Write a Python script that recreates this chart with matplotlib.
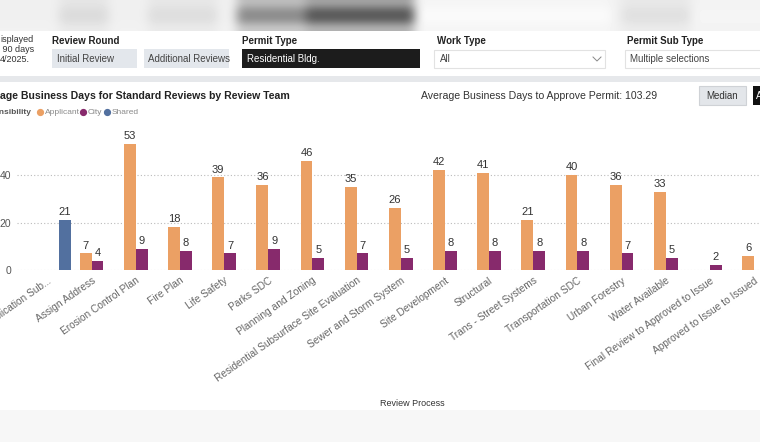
import numpy as np
import matplotlib.pyplot as plt
import matplotlib.transforms as mtransforms
from matplotlib.patches import Rectangle
from matplotlib.lines import Line2D

plt.rcParams['font.family'] = ['Liberation Sans', 'DejaVu Sans']

# Data (None = no bar)
processes = ["Application Sub...", "Assign Address", "Erosion Control Plan", "Fire Plan",
             "Life Safety", "Parks SDC", "Planning and Zoning",
             "Residential Subsurface Site Evaluation", "Sewer and Storm System",
             "Site Development", "Structural", "Trans - Street Systems",
             "Transportation SDC", "Urban Forestry", "Water Available",
             "Final Review to Approved to Issue", "Approved to Issue to Issued"]
applicant = [None, 7, 53, 18, 39, 36, 46, 35, 26, 42, 41, 21, 40, 36, 33, None, 6]
city = [None, 4, 9, 8, 7, 9, 5, 7, 5, 8, 8, 8, 8, 7, 5, 2, None]
shared = [21, None, None, None, None, None, None, None, None, None, None, None,
          None, None, None, None, None]
y_ticks = [0, 20, 40]
avg_days = 103.29

series = [("Applicant", applicant, '#EBA064'),
          ("City", city, '#872A6C'),
          ("Shared", shared, '#52709F')]

W, H = 760, 442
fig = plt.figure(figsize=(W / 100, H / 100), dpi=100)


def fx(px):
    return px / W


def fy(py):
    return 1 - py / H


def box(x0, y0, x1, y1, fc, ec='none', lw=0.8):
    fig.add_artist(Rectangle((fx(x0), fy(y1)), fx(x1) - fx(x0), fy(y0) - fy(y1),
                             transform=fig.transFigure, facecolor=fc, edgecolor=ec, lw=lw))


def txt(x, y, s, **kw):
    kw.setdefault('va', 'center')
    fig.text(fx(x), fy(y), s, **kw)


# blurred header strip at the very top
bg = fig.add_axes([0, fy(31), 1, 31 / H])
strip = np.full((4, 77), 0.94)
strip[:, 6:11] = 0.86
strip[:, 15:22] = 0.87
strip[:, 24:31] = 0.55
strip[:, 31:42] = 0.35
strip[:, 42:62] = 0.98
strip[:, 63:70] = 0.88
strip[:, 70:] = 0.96
strip[0] = strip[0] * 0.5 + 0.47
strip[3] = strip[3] * 0.4 + 0.57
bg.imshow(strip, cmap='gray', vmin=0, vmax=1, aspect='auto', interpolation='bicubic')
bg.axis('off')

# separator and bottom band
box(0, 76, W, 82, '#e6e8eb')
box(0, 410, W, H, '#f7f7f7')

# filter row
for i, line in enumerate(["isplayed", " 90 days", "4/2025."]):
    txt(0, 40 + i * 9.5, line, fontsize=6.5, color='#333333')
txt(52, 41, "Review Round", fontsize=7, fontweight='bold', color='#222222')
box(52, 49, 137, 68, '#e3e7ec')
txt(57, 58.5, "Initial Review", fontsize=7, color='#444444')
box(144, 49, 229, 68, '#e3e7ec')
txt(148, 58.5, "Additional Reviews", fontsize=7, color='#444444')
txt(242, 41, "Permit Type", fontsize=7, fontweight='bold', color='#222222')
box(242, 49, 420, 68, '#1c1c1c')
txt(247, 58.5, "Residential Bldg.", fontsize=7, color='white')
txt(437, 41, "Work Type", fontsize=7, fontweight='bold', color='#222222')
box(434, 50, 605, 68, 'white', '#e2e2e2')
txt(440, 59, "All", fontsize=7, color='#444444')
fig.add_artist(Line2D([fx(593), fx(597), fx(601)], [fy(57), fy(61), fy(57)],
                      transform=fig.transFigure, color='#888888', lw=0.7))
txt(627, 41, "Permit Sub Type", fontsize=7, fontweight='bold', color='#222222')
box(625, 50, W + 5, 68, 'white', '#e2e2e2')
txt(630, 59, "Multiple selections", fontsize=7, color='#444444')

# chart header
txt(290, 96, "Average Business Days for Standard Reviews by Review Team",
    fontsize=7.6, fontweight='bold', color='#222222', ha='right')
txt(421, 96, f"Average Business Days to Approve Permit: {avg_days}",
    fontsize=7.6, color='#333333')
box(699, 86, 746, 105, '#e3e6ea', '#cfd2d6')
txt(722.5, 96, "Median", fontsize=7, color='#333333', ha='center')
box(753, 86, W + 20, 105, '#111111')
txt(756, 96, "Average", fontsize=7, color='white')

# legend
txt(31, 112, "Responsibility", fontsize=6, fontweight='bold', color='#555555', ha='right')
leg_x = [40, 83, 107]
for (name, _, col), lx in zip(series, leg_x):
    fig.add_artist(Line2D([fx(lx)], [fy(112)], marker='o', ms=4.2, color=col,
                          transform=fig.transFigure))
    txt(lx + 4.5, 112, name, fontsize=6, color='#8a8a8a')

# bar chart
ax = fig.add_axes([fx(17), fy(270), fx(W) - fx(17), (270 - 125) / H])
ax.set_facecolor('none')
x = np.arange(len(processes))
bw = 0.8 / 3
for k, (name, vals, col) in enumerate(series):
    idx = [i for i, v in enumerate(vals) if v is not None]
    hv = [vals[i] for i in idx]
    bars = ax.bar(x[idx] + (k - 1) * bw, hv, width=bw, color=col, zorder=3)
    ax.bar_label(bars, padding=2, fontsize=8, color='#333333')

ax.set_xlim((17 - 53.4) / 44.3, (W - 53.4) / 44.3)
ax.set_ylim(0, (270 - 125) / 2.375)
ax.set_yticks(y_ticks)
ax.yaxis.grid(True, linestyle=(0, (1, 2)), color='#bbbbbb', lw=0.8, zorder=0)
ax.set_axisbelow(True)
for s in ax.spines.values():
    s.set_visible(False)
ax.tick_params(axis='y', length=0, pad=4, labelsize=7.5, labelcolor='#555555')
ax.set_xticks(x)
ax.set_xticklabels(processes, rotation=35, ha='right', rotation_mode='anchor',
                   fontsize=7.3, color='#666666')
ax.tick_params(axis='x', length=0, pad=4)
# labels sit a few pixels left of the group centre in the dashboard
shift = mtransforms.ScaledTranslation(-0.06, 0, fig.dpi_scale_trans)
for lab in ax.get_xticklabels():
    lab.set_transform(lab.get_transform() + shift)

txt(380, 403, "Review Process", fontsize=6.5, color='#333333')

fig.savefig('out.png', dpi=100)
